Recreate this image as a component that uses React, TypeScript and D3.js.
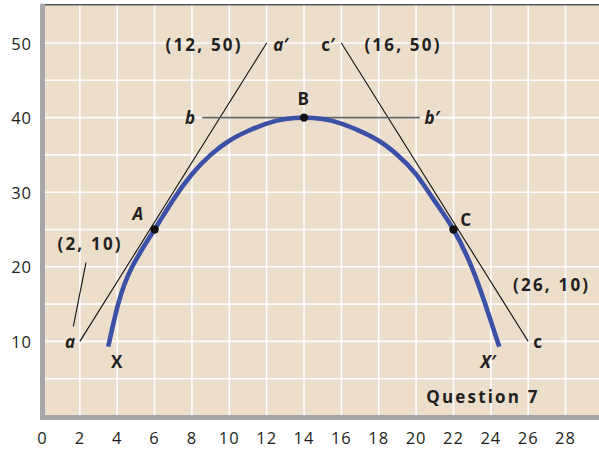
import React from 'react'
import * as d3 from 'd3'

// PPF curve
const curveX = [3.52, 4.05, 4.8, 6, 7, 8, 9, 10, 11, 12, 13, 14, 15, 16, 17, 18, 19, 20, 21, 22, 22.97, 23.7, 24.45]
const curveY = [9.3, 15, 20, 25, 29.0, 32.4, 35.0, 36.9, 38.2, 39.2, 39.8, 40, 39.8, 39.2, 38.2, 36.9, 35.0, 32.4, 28.8, 25, 20, 15, 9.3]

// marked points A, B, C
const pointNames = ['A', 'B', 'C']
const pointX = [6, 14, 22]
const pointY = [25, 40, 25]

// tangent lines a-a', b-b', c-c'
const tangentA = [[2, 10], [12, 50]]
const tangentB = [[8.55, 40], [20.2, 40]]
const tangentC = [[16, 50], [26, 10]]
const pointerLine = [[2.33, 20.6], [1.65, 12.0]]

const xTicks = [0, 2, 4, 6, 8, 10, 12, 14, 16, 18, 20, 22, 24, 26, 28]
const yTicks = [10, 20, 30, 40, 50]
const xGrid = [2, 4, 6, 8, 10, 12, 14, 16, 18, 20, 22, 24, 26, 28]
const yGrid = [5, 10, 15, 20, 25, 30, 35, 40, 45, 50]

// text notes: [text, x, y, italic]
const notes: [string, number, number, boolean][] = [
  ['(12, 50)', 8.65, 49.8, false],
  ['a\u2032', 12.75, 49.8, true],
  ['c\u2032', 15.3, 49.8, false],
  ['(16, 50)', 19.3, 49.8, false],
  ['b', 7.9, 40, true],
  ['b\u2032', 20.85, 40, true],
  ['B', 13.95, 42.6, false],
  ['A', 5.1, 27.1, true],
  ['C', 22.65, 26.3, false],
  ['(2, 10)', 2.55, 23.1, false],
  ['a', 1.47, 9.95, true],
  ['(26, 10)', 27.26, 17.6, false],
  ['c', 26.5, 10, false],
  ['X', 3.97, 7.3, false],
  ['X\u2032', 23.85, 7.3, true],
  ['Question 7', 23.58, 2.6, false],
]

const W = 599
const H = 452
const FONT = '"Open Sans", Lato, sans-serif'

const App = () => {
  const x = d3.scaleLinear().domain([0, 30]).range([42.5, 42.5 + 30 * 18.68])
  const y = d3.scaleLinear().domain([0, 55]).range([416, 416 - 55 * 7.46])

  const curve = d3.line<number>()
    .x((d, i) => x(curveX[i]))
    .y((d, i) => y(curveY[i]))
    .curve(d3.curveNatural)

  const seg = d3.line<number[]>().x(d => x(d[0])).y(d => y(d[1]))

  const top = y(55) - 1
  return (
    <svg width={W} height={H} style={{ position: 'absolute', left: 0, top: 0, background: '#fff' }}>
      <rect x={x(0)} y={top} width={W - x(0)} height={y(0) - top} fill="#ecdecb" />
      {xGrid.map(v => (
        <line key={'gx' + v} x1={x(v)} x2={x(v)} y1={top} y2={y(0)} stroke="#fff" strokeWidth={1.6} />
      ))}
      {yGrid.map(v => (
        <line key={'gy' + v} x1={x(0)} x2={W} y1={y(v)} y2={y(v)} stroke="#fff" strokeWidth={1.6} />
      ))}
      <line x1={x(0) - 2.5} x2={W} y1={top} y2={top} stroke="#555" strokeWidth={1.6} />
      <line x1={x(0)} x2={x(0)} y1={top - 1} y2={y(0) + 4} stroke="#a7a7a9" strokeWidth={5} />
      <line x1={x(0) - 2.5} x2={W} y1={y(0) + 1.5} y2={y(0) + 1.5} stroke="#a7a7a9" strokeWidth={5} />

      <path d={seg(tangentA) || ''} stroke="#111" strokeWidth={1.1} fill="none" />
      <path d={seg(tangentC) || ''} stroke="#111" strokeWidth={1.1} fill="none" />
      <path d={seg(pointerLine) || ''} stroke="#111" strokeWidth={1.1} fill="none" />
      <path d={seg(tangentB) || ''} stroke="#666" strokeWidth={1.6} fill="none" />

      <path d={curve(curveX) || ''} stroke="#3b51a8" strokeWidth={4.6} fill="none" strokeLinejoin="round" />

      {pointNames.map((n, i) => (
        <circle key={n} cx={x(pointX[i])} cy={y(pointY[i])} r={4.2} fill="#111" />
      ))}

      {notes.map(([t, nx, ny, it]) => (
        <text key={t} x={x(nx)} y={y(ny)} textAnchor="middle" dominantBaseline="central"
          fontFamily={FONT} fontWeight="bold" fontStyle={it ? 'italic' : 'normal'}
          letterSpacing={t.length > 2 ? 2.2 : 0}
          fontSize={17} fill="#231f20">{t}</text>
      ))}

      {xTicks.map(v => (
        <text key={'tx' + v} x={x(v)} y={437} textAnchor="middle" dominantBaseline="central"
          fontFamily={FONT} fontSize={16.5} letterSpacing={1} fill="#231f20">{v}</text>
      ))}
      {yTicks.map(v => (
        <text key={'ty' + v} x={32} y={y(v)} textAnchor="end" dominantBaseline="central"
          fontFamily={FONT} fontSize={16.5} letterSpacing={1} fill="#231f20">{v}</text>
      ))}
    </svg>
  )
}

export default App
